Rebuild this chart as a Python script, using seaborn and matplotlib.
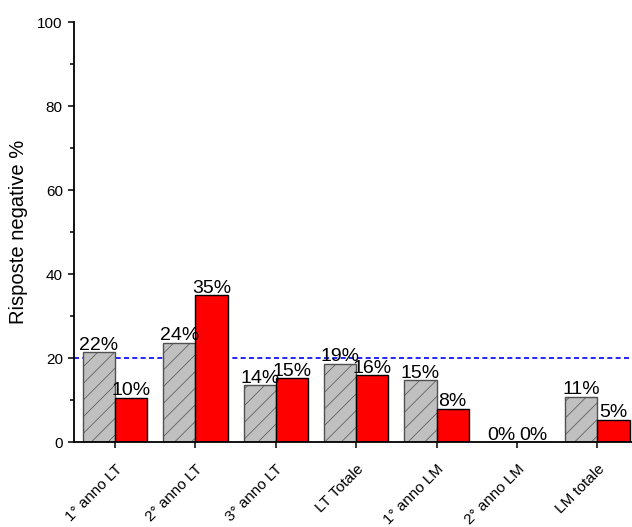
import pandas as pd
import matplotlib
matplotlib.use('Agg')
import matplotlib.pyplot as plt
import seaborn as sns
from matplotlib.ticker import MultipleLocator

categories = ['1° anno LT', '2° anno LT', '3° anno LT', 'LT Totale',
              '1° anno LM', '2° anno LM', 'LM totale']
gray_vals = [21.4, 23.7, 13.5, 18.6, 14.7, 0, 10.8]
red_vals = [10.5, 35.0, 15.2, 15.9, 7.9, 0, 5.3]
gray_labels = ['22%', '24%', '14%', '19%', '15%', '0%', '11%']
red_labels = ['10%', '35%', '15%', '16%', '8%', '0%', '5%']
threshold = 20

df = pd.DataFrame({
    'cat': categories * 2,
    'val': gray_vals + red_vals,
    'serie': ['A'] * len(categories) + ['B'] * len(categories),
})

sns.set_style('ticks')
plt.rcParams['font.family'] = ['Liberation Sans', 'DejaVu Sans']
plt.rcParams['hatch.linewidth'] = 0.5
for k in ['text.color', 'axes.labelcolor', 'xtick.color', 'ytick.color']:
    plt.rcParams[k] = 'black'

fig = plt.figure(figsize=(6.32, 5.27), dpi=100)
ax = fig.add_axes([0.117, 0.161, 0.883, 0.797])

sns.barplot(data=df, x='cat', y='val', hue='serie', order=categories,
            palette={'A': '#c0c0c0', 'B': '#ff0000'}, width=0.8, saturation=1,
            edgecolor='black', linewidth=1, legend=False, ax=ax)

for p in ax.containers[0]:
    p.set_hatch('//')
    p.set_edgecolor('#505050')

ax.bar_label(ax.containers[0], labels=gray_labels, padding=-1, fontsize=14)
ax.bar_label(ax.containers[1], labels=red_labels, padding=-1, fontsize=14)

ax.axhline(threshold, color='#0000ff', ls=(0, (3, 2)), lw=1.2, zorder=0.5)

ax.set_ylim(0, 100)
ax.set_xlim(-0.51, 6.43)
ax.yaxis.set_major_locator(MultipleLocator(20))
ax.yaxis.set_minor_locator(MultipleLocator(10))
ax.tick_params(axis='both', which='major', direction='out', length=4.5,
               width=1.1, labelsize=11)
ax.tick_params(axis='x', pad=10)
ax.tick_params(axis='y', which='minor', direction='out', length=3, width=1.1)
ax.set_xticks(range(len(categories)))
ax.set_xticklabels(categories, rotation=45, ha='right', va='top',
                   rotation_mode='anchor', fontsize=11)

ax.set_xlabel('')
ax.set_ylabel('Risposte negative %', fontsize=14.5, labelpad=7)

for s in ['top', 'right']:
    ax.spines[s].set_visible(False)
for s in ['left', 'bottom']:
    ax.spines[s].set_linewidth(1.3)
    ax.spines[s].set_color('black')

plt.savefig('out.png', dpi=100)
